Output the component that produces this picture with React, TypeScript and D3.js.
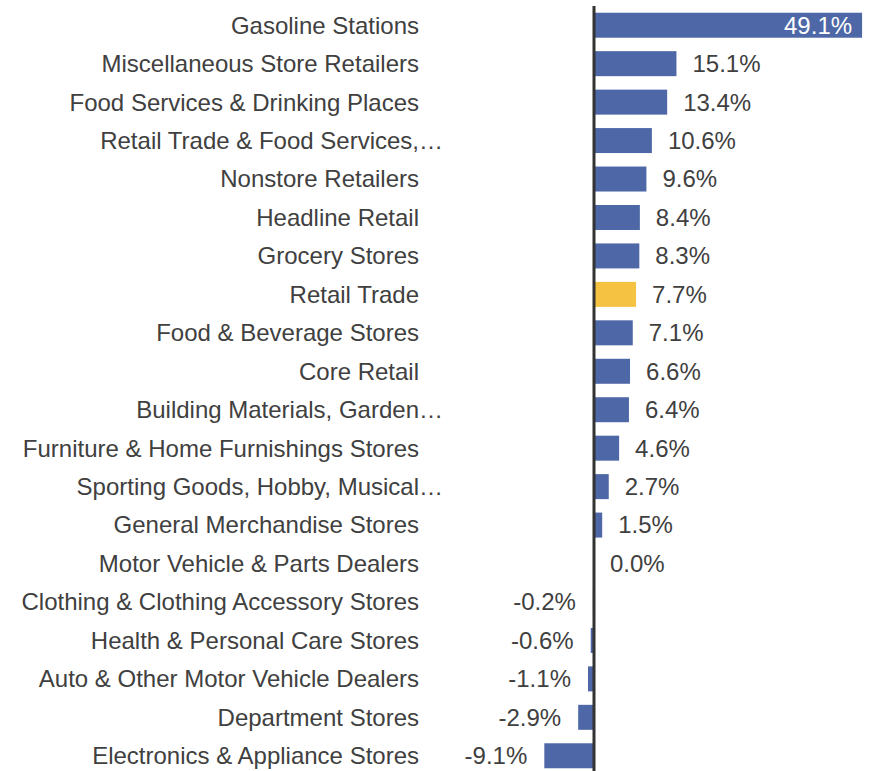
import React from "react";
import * as d3 from "d3";

const categories = [
  "Gasoline Stations",
  "Miscellaneous Store Retailers",
  "Food Services & Drinking Places",
  "Retail Trade & Food Services,…",
  "Nonstore Retailers",
  "Headline Retail",
  "Grocery Stores",
  "Retail Trade",
  "Food & Beverage Stores",
  "Core Retail",
  "Building Materials, Garden…",
  "Furniture & Home Furnishings Stores",
  "Sporting Goods, Hobby, Musical…",
  "General Merchandise Stores",
  "Motor Vehicle & Parts Dealers",
  "Clothing & Clothing Accessory Stores",
  "Health & Personal Care Stores",
  "Auto & Other Motor Vehicle Dealers",
  "Department Stores",
  "Electronics & Appliance Stores",
];
const values = [49.1, 15.1, 13.4, 10.6, 9.6, 8.4, 8.3, 7.7, 7.1, 6.6, 6.4, 4.6, 2.7, 1.5, 0.0, -0.2, -0.6, -1.1, -2.9, -9.1];
const highlighted = ["Retail Trade"];

const W = 871;
const H = 771;

export default function App() {
  const y = d3.scaleBand<string>().domain(categories).range([6, 775]).paddingInner(0.35).paddingOuter(0.175);
  const x = d3.scaleLinear().domain([-10, 50]).range([539.4, 867]);
  const x0 = x(0);
  const fmt = (v: number) => v.toFixed(1) + "%";
  const font = "'Liberation Sans', Arial, sans-serif";
  return (
    <svg width={W} height={H} style={{ position: "absolute", left: 0, top: 0 }} fontFamily={font}>
      {categories.map((c, i) => {
        const v = values[i];
        const yc = (y(c) as number) + y.bandwidth() / 2;
        const truncated = c.endsWith("…");
        const inside = v > 40;
        return (
          <g key={c}>
            <text x={truncated ? 443 : 419} y={yc} dy="0.35em" textAnchor="end" fontSize={24} fill="#404040">
              {c}
            </text>
            <rect
              x={Math.min(x(v), x0)}
              y={y(c)}
              width={Math.abs(x(v) - x0)}
              height={y.bandwidth()}
              fill={highlighted.includes(c) ? "#f5c242" : "#4e67a6"}
            />
            <text
              x={inside ? x(v) - 10 : v >= 0 ? x(v) + 16 : x(v) - 17}
              y={yc}
              dy="0.35em"
              textAnchor={inside || v < 0 ? "end" : "start"}
              fontSize={24}
              fill={inside ? "#ffffff" : "#404040"}
            >
              {fmt(v)}
            </text>
          </g>
        );
      })}
      <line x1={x0} x2={x0} y1={6} y2={H} stroke="#333333" strokeWidth={3} />
    </svg>
  );
}
